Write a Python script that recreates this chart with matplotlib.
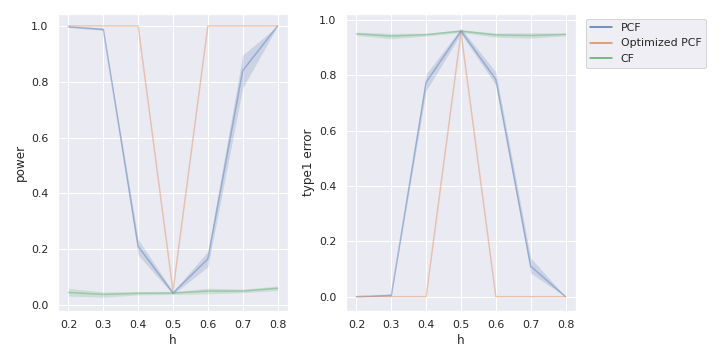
import matplotlib
matplotlib.use("Agg")
import matplotlib.pyplot as plt
import seaborn as sns
from matplotlib.lines import Line2D

sns.set_theme(style="darkgrid")

h = [0.2, 0.3, 0.4, 0.5, 0.6, 0.7, 0.8]
series = ["PCF", "Optimized PCF", "CF"]

# power (left panel): mean, lower, upper
power_pcf = [0.997, 0.988, 0.21, 0.043, 0.165, 0.84, 1.0]
power_pcf_lo = [0.995, 0.984, 0.179, 0.038, 0.137, 0.778, 1.0]
power_pcf_hi = [0.999, 0.992, 0.235, 0.048, 0.192, 0.896, 1.0]
power_opt = [1.0, 1.0, 1.0, 0.05, 1.0, 1.0, 1.0]
power_opt_lo = [1.0, 1.0, 1.0, 0.05, 1.0, 1.0, 1.0]
power_opt_hi = [1.0, 1.0, 1.0, 0.05, 1.0, 1.0, 1.0]
power_cf = [0.045, 0.038, 0.042, 0.043, 0.05, 0.05, 0.06]
power_cf_lo = [0.032, 0.028, 0.036, 0.038, 0.04, 0.044, 0.052]
power_cf_hi = [0.06, 0.047, 0.048, 0.048, 0.06, 0.057, 0.068]

# type1 error (right panel)
t1_pcf = [0.0, 0.005, 0.775, 0.96, 0.785, 0.11, 0.0]
t1_pcf_lo = [0.0, 0.002, 0.745, 0.95, 0.765, 0.085, 0.0]
t1_pcf_hi = [0.0, 0.01, 0.805, 0.97, 0.812, 0.14, 0.0]
t1_opt = [0.0, 0.0, 0.0, 0.955, 0.0, 0.0, 0.0]
t1_opt_lo = [0.0, 0.0, 0.0, 0.955, 0.0, 0.0, 0.0]
t1_opt_hi = [0.0, 0.0, 0.0, 0.955, 0.0, 0.0, 0.0]
t1_cf = [0.95, 0.942, 0.947, 0.96, 0.946, 0.944, 0.948]
t1_cf_lo = [0.944, 0.932, 0.942, 0.955, 0.938, 0.934, 0.943]
t1_cf_hi = [0.956, 0.952, 0.952, 0.965, 0.953, 0.954, 0.953]

colors = sns.color_palette()[:3]

fig = plt.figure(figsize=(10, 5), dpi=72)
ax1 = fig.add_axes([58/720, 1-311/360, 230/720, 297/360])
ax2 = fig.add_axes([346/720, 1-311/360, 230/720, 297/360])

left = [(power_pcf, power_pcf_lo, power_pcf_hi),
        (power_opt, power_opt_lo, power_opt_hi),
        (power_cf, power_cf_lo, power_cf_hi)]
right = [(t1_pcf, t1_pcf_lo, t1_pcf_hi),
         (t1_opt, t1_opt_lo, t1_opt_hi),
         (t1_cf, t1_cf_lo, t1_cf_hi)]

for ax, data, ylabel in [(ax1, left, "power"), (ax2, right, "type1 error")]:
    for (m, lo, hi), c in zip(data, colors):
        ax.plot(h, m, color=c, alpha=0.4, lw=1.5)
        ax.fill_between(h, lo, hi, color=c, alpha=0.2, lw=0)
    ax.set_xlabel("h")
    ax.set_ylabel(ylabel)
    ax.set_xticks(h)
    ax.set_xlim(0.17, 0.83)

ax1.set_ylim(-0.0215, 1.043)
ax2.set_ylim(-0.0517, 1.0217)

handles = [Line2D([], [], color=c, lw=1.5) for c in colors]
fig.legend(handles, series, loc="upper left", bbox_to_anchor=(580/720, 1-13/360))

fig.savefig("out.png", dpi=72)
